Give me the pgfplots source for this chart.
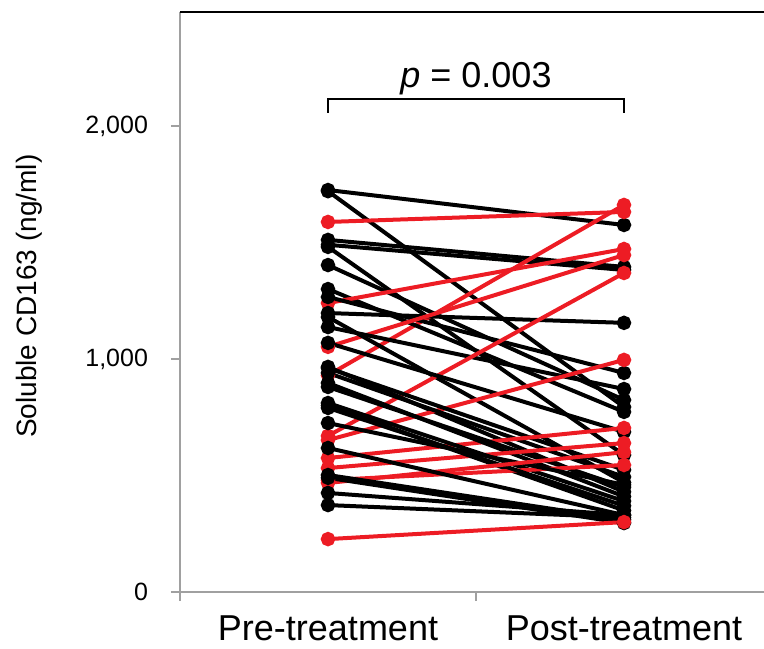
\documentclass[border=0pt]{standalone}
\usepackage{fontspec}
\setmainfont{Liberation Sans}
\usepackage{pgfplots}
\pgfplotsset{compat=1.18}
\definecolor{myred}{RGB}{237,28,36}
\definecolor{axgray}{RGB}{160,160,160}
\pgfplotsset{
  blk/.style={black, line width=2pt, mark=*, mark size=2.6pt, mark options={solid, fill=black}},
  rd/.style={myred, line width=2pt, mark=*, mark size=2.6pt, mark options={solid, fill=myred}},
}
\begin{document}
\begin{tikzpicture}
\begin{axis}[
  name=ax,
  scale only axis, width=292pt, height=290pt,
  xmin=0.5, xmax=2.473, ymin=0, ymax=2489,
  clip=false,
  axis x line*=bottom, axis y line*=left,
  axis line style={axgray, line width=0.6pt, -},
  /pgf/number format/assume math mode=true,
  xtick={0.5,1.5,2.5}, xticklabels={},
  extra x ticks={1,2}, extra x tick labels={Pre-treatment,Post-treatment},
  extra x tick style={major tick length=0pt,
    tick label style={font=\fontsize{18}{20}\selectfont, anchor=base, yshift=-24pt}},
  ytick={0,1000,2000}, yticklabels={0,{1,000},{2,000}},
  y tick label style={font=\fontsize{12.5}{14}\selectfont, anchor=east, xshift=-8pt},
  tick align=outside, major tick length=4.5pt,
  tick style={axgray, line width=0.6pt},
  ylabel={Soluble CD163 (ng/ml)},
  ylabel style={font=\fontsize{14}{16}\selectfont, at={(rel axis cs:-0.258,0.51)}, anchor=center},
]
\addplot[blk] coordinates {(1,1725) (2,1575)};
\addplot[blk] coordinates {(1,1720) (2,794)};
\addplot[rd]  coordinates {(1,1588) (2,1631)};
\addplot[blk] coordinates {(1,1511) (2,1395)};
\addplot[blk] coordinates {(1,1490) (2,1382)};
\addplot[blk] coordinates {(1,1481) (2,588)};
\addplot[rd]  coordinates {(1,930) (2,1661)};
\addplot[blk] coordinates {(1,1403) (2,824)};
\addplot[blk] coordinates {(1,1300) (2,773)};
\addplot[rd]  coordinates {(1,1240) (2,1472)};
\addplot[blk] coordinates {(1,1266) (2,940)};
\addplot[blk] coordinates {(1,1197) (2,1155)};
\addplot[rd]  coordinates {(1,1052) (2,1446)};
\addplot[blk] coordinates {(1,1180) (2,470)};
\addplot[blk] coordinates {(1,1137) (2,871)};
\addplot[rd]  coordinates {(1,670) (2,1369)};
\addplot[blk] coordinates {(1,1069) (2,687)};
\addplot[blk] coordinates {(1,966) (2,430)};
\addplot[rd]  coordinates {(1,652) (2,996)};
\addplot[blk] coordinates {(1,961) (2,524)};
\addplot[blk] coordinates {(1,940) (2,494)};
\addplot[rd]  coordinates {(1,575) (2,704)};
\addplot[blk] coordinates {(1,897) (2,410)};
\addplot[blk] coordinates {(1,880) (2,450)};
\addplot[rd]  coordinates {(1,532) (2,639)};
\addplot[blk] coordinates {(1,811) (2,390)};
\addplot[blk] coordinates {(1,800) (2,350)};
\addplot[rd]  coordinates {(1,480) (2,545)};
\addplot[blk] coordinates {(1,790) (2,370)};
\addplot[blk] coordinates {(1,725) (2,460)};
\addplot[rd]  coordinates {(1,468) (2,600)};
\addplot[blk] coordinates {(1,618) (2,330)};
\addplot[blk] coordinates {(1,502) (2,310)};
\addplot[blk] coordinates {(1,490) (2,296)};
\addplot[blk] coordinates {(1,425) (2,330)};
\addplot[blk] coordinates {(1,373) (2,320)};
\addplot[rd]  coordinates {(1,227) (2,300)};
\draw[black, line width=0.8pt] (axis cs:1,2056) -- (axis cs:1,2116) -- (axis cs:2,2116) -- (axis cs:2,2056);
\node[anchor=base, font=\fontsize{18}{20}\selectfont, inner sep=0pt] at (axis cs:1.5,2167) {\textit{p} = 0.003};
\draw[black, line width=0.6pt] (rel axis cs:0,1) -- (rel axis cs:1,1);
\end{axis}
\pgfresetboundingbox
\path[use as bounding box] ([xshift=-90pt,yshift=-28pt]ax.south west) rectangle ([yshift=6pt]ax.north east);
\end{tikzpicture}
\end{document}
